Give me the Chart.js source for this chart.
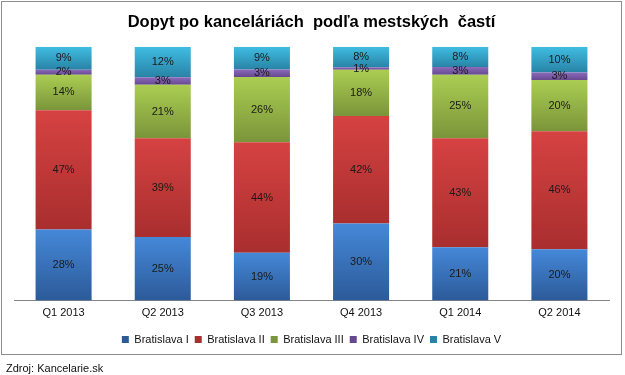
<!DOCTYPE html>
<html>
<head>
<meta charset="utf-8">
<script src="https://cdn.jsdelivr.net/npm/chart.js@4"></script>
<style>
  html, body { margin: 0; padding: 0; background: #fff; }
  #wrap { width: 625px; height: 375px; }
</style>
</head>
<body>
<div id="wrap"><canvas id="chart" width="625" height="375"></canvas></div>
<script>
// data
const quarters = ["Q1 2013", "Q2 2013", "Q3 2013", "Q4 2013", "Q1 2014", "Q2 2014"];
const districts = ["Bratislava I", "Bratislava II", "Bratislava III", "Bratislava IV", "Bratislava V"];
const bratislava1 = [28, 25, 19, 30, 21, 20];
const bratislava2 = [47, 39, 44, 42, 43, 46];
const bratislava3 = [14, 21, 26, 18, 25, 20];
const bratislava4 = [2, 3, 3, 1, 3, 3];
const bratislava5 = [9, 12, 9, 8, 8, 10];
const seriesValues = [bratislava1, bratislava2, bratislava3, bratislava4, bratislava5];

// colours: flat (legend) and gradient top/bottom
const flatColors = ["#3f78c3", "#c83a3a", "#95b848", "#7a5aa3", "#35a7cf"];
const topColors = ["#4588d8", "#d64242", "#abcd52", "#8c6bba", "#40bde2"];
const bottomColors = ["#2c5a99", "#a92e2e", "#7a953a", "#654891", "#2883a6"];

const FONT = "'Liberation Sans', Arial, sans-serif";

// each bar is a 100 % stack, so the shares are scaled to the quarter's total
const totals = quarters.map((q, i) => seriesValues.reduce((s, arr) => s + arr[i], 0));
const shares = seriesValues.map(arr => arr.map((v, i) => v * 100 / totals[i]));

function segmentFill(c) {
  const i = c.datasetIndex;
  if (c.type !== "data") return flatColors[i];
  const chart = c.chart;
  const y = chart.scales.y;
  if (!y) return flatColors[i];
  let start = 0;
  for (let d = 0; d < i; d++) start += shares[d][c.dataIndex];
  const end = start + shares[i][c.dataIndex];
  const yTop = y.getPixelForValue(end);
  const yBot = y.getPixelForValue(start);
  if (!isFinite(yTop) || !isFinite(yBot) || yTop === yBot) return flatColors[i];
  const g = chart.ctx.createLinearGradient(0, yTop, 0, yBot);
  g.addColorStop(0, topColors[i]);
  g.addColorStop(1, bottomColors[i]);
  return g;
}

const valueLabels = {
  id: "valueLabels",
  afterDatasetsDraw(chart) {
    const ctx = chart.ctx;
    ctx.save();
    ctx.font = "11px " + FONT;
    ctx.fillStyle = "#1a1a1a";
    ctx.textAlign = "center";
    ctx.textBaseline = "middle";
    chart.data.datasets.forEach((ds, d) => {
      chart.getDatasetMeta(d).data.forEach((el, i) => {
        ctx.fillText(seriesValues[d][i] + "%", el.x, (el.y + el.base) / 2);
      });
    });
    ctx.restore();
  }
};

const frameAndSource = {
  id: "frameAndSource",
  beforeDraw(chart) {
    const ctx = chart.ctx;
    ctx.save();
    ctx.fillStyle = "#fff";
    ctx.fillRect(0, 0, chart.width, chart.height);
    ctx.restore();
  },
  afterDraw(chart) {
    const ctx = chart.ctx;
    ctx.save();
    ctx.strokeStyle = "#8c8c8c";
    ctx.lineWidth = 1;
    ctx.strokeRect(1.5, 1.5, 620, 353);
    ctx.font = "11px " + FONT;
    ctx.fillStyle = "#111";
    ctx.textBaseline = "middle";
    ctx.fillText("Zdroj: Kancelarie.sk", 6, 369);
    ctx.restore();
  }
};

new Chart("chart", {
  type: "bar",
  data: {
    labels: quarters,
    datasets: districts.map((name, d) => ({
      label: name,
      data: shares[d],
      backgroundColor: segmentFill,
      borderWidth: 0,
      categoryPercentage: 1,
      barPercentage: 0.565
    }))
  },
  options: {
    responsive: false,
    animation: false,
    events: [],
    layout: { padding: { left: 14, right: 16, top: 0, bottom: 20 } },
    scales: {
      x: {
        stacked: true,
        grid: { display: false, drawTicks: false },
        border: { display: true, color: "#868686", width: 1 },
        ticks: { color: "#111", font: { family: FONT, size: 11 }, padding: 6 },
        afterFit(scale) { scale.height = 27.5; }
      },
      y: {
        stacked: true,
        display: false,
        min: 0,
        max: 100
      }
    },
    plugins: {
      title: {
        display: true,
        text: "Dopyt po kanceláriách  podľa mestských  častí",
        color: "#000",
        font: { family: FONT, size: 16.5, weight: "bold" },
        padding: { top: 13, bottom: 14 }
      },
      legend: {
        position: "bottom",
        labels: {
          boxWidth: 7,
          boxHeight: 7,
          padding: 6,
          color: "#111",
          font: { family: FONT, size: 11 }
        }
      },
      tooltip: { enabled: false }
    }
  },
  plugins: [valueLabels, frameAndSource]
});
</script>
</body>
</html>
